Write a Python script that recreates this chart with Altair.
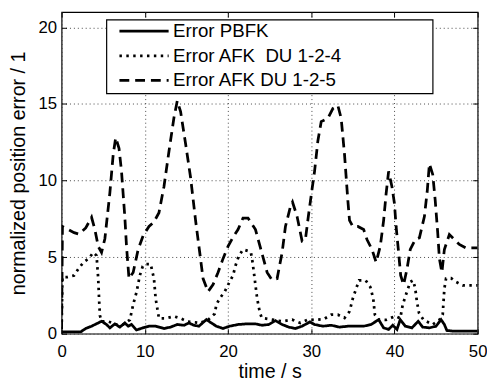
import altair as alt
import pandas as pd

# ---- data ----
series_names = ["Error PBFK", "Error AFK\u00a0 DU 1-2-4", "Error AFK DU 1-2-5"]

t_pbfk = [0, 2.3, 2.9, 3.6, 4.4, 4.8, 5.4, 5.8, 6.4, 7.0, 7.6, 8.0, 8.4, 9.0, 9.75, 10.5,
          11.3, 12.3, 13.1, 13.9, 14.7, 15.3, 15.9, 16.5, 17.4, 18.0, 18.6, 19.4, 20.2,
          21.2, 22.2, 23.3, 24.1, 24.9, 25.7, 26.5, 27.3, 28.1, 28.9, 29.85, 30.4, 31.4,
          32.4, 33.4, 34.4, 35.4, 36.3, 37.2, 38.1, 38.7, 39.3, 39.8, 40.3, 40.7, 41.3,
          42.1, 42.85, 43.4, 44.2, 45.0, 45.6, 46.0, 46.3, 47.0, 50.0]
e_pbfk = [0.12, 0.12, 0.34, 0.49, 0.7, 0.81, 0.6, 0.38, 0.64, 0.43, 0.7, 0.49, 0.6, 0.24,
          0.38, 0.49, 0.49, 0.34, 0.43, 0.6, 0.55, 0.7, 0.55, 0.49, 0.92, 0.7, 0.49, 0.34,
          0.49, 0.6, 0.64, 0.64, 0.55, 0.6, 0.85, 0.6, 0.43, 0.34, 0.49, 0.77, 0.6, 0.49,
          0.55, 0.43, 0.49, 0.49, 0.49, 0.6, 0.92, 0.38, 0.28, 0.55, 0.28, 0.92, 0.49,
          0.38, 0.81, 0.43, 0.38, 0.49, 0.92, 0.6, 0.21, 0.17, 0.17]

t_du124 = [0, 0.1, 0.7, 1.5, 2.1, 2.7, 3.25, 3.8, 4.2, 4.4, 4.5, 4.6, 4.8, 5.6, 6.6, 7.4,
           8.2, 8.6, 9.0, 9.4, 9.75, 10.1, 10.7, 11.1, 11.3, 11.7, 12.5, 13.5, 14.3, 15.1,
           16.6, 17.6, 18.4, 18.6, 19.0, 19.6, 20.2, 20.6, 20.9, 21.3, 21.8, 22.4, 22.75,
           22.95, 23.2, 23.5, 23.8, 24.05, 25.3, 26.5, 27.7, 28.7, 29.6, 30.5, 31.5, 32.4,
           33.2, 34.0, 34.6, 35.0, 35.4, 35.75, 36.55, 37.1, 37.45, 37.65, 38.1, 39.0,
           40.1, 40.7, 41.0, 41.5, 41.9, 42.25, 42.5, 42.7, 42.95, 43.5, 44.6, 45.4, 45.8,
           45.9, 46.0, 46.2, 46.8, 47.4, 48.2, 49.1, 50.0]
e_du124 = [0.3, 3.7, 3.7, 3.8, 4.3, 4.7, 4.9, 5.3, 5.1, 3.6, 2.3, 1.2, 0.8, 0.8, 0.6, 0.6,
           0.9, 1.9, 2.7, 3.8, 4.4, 4.55, 4.55, 3.6, 2.3, 1.0, 1.0, 1.13, 1.0, 0.8,
           0.7, 0.9, 1.3, 1.9, 2.3, 2.74, 3.4, 3.8, 4.44, 5.08, 5.5, 5.4, 5.3,
           4.66, 3.6, 2.3, 1.45, 1.03, 0.92, 0.8, 0.92, 0.7, 0.92, 0.9, 0.95, 1.24,
           1.24, 1.03, 1.45, 2.3, 2.95, 3.48, 3.48, 3.05, 2.3, 1.24, 0.92, 0.9,
           1.15, 1.0, 1.9, 2.74, 3.38, 3.48, 2.95, 2.1, 1.35, 0.9, 0.6, 0.9, 1.24,
           2.1, 2.95, 3.6, 3.63, 3.38, 3.16, 3.16, 3.16]

t_du125 = [0, 0.1, 0.8, 1.5, 2.1, 2.9, 3.6, 4.0, 4.4, 4.8, 5.2, 5.8, 6.2, 6.5, 6.9, 7.2,
           7.6, 7.8, 8.1, 8.6, 9.2, 9.8, 10.5, 11.1, 11.7, 12.3, 12.9, 13.5, 13.9, 14.3,
           14.9, 15.5, 16.1, 16.6, 17.0, 17.6, 18.2, 18.8, 19.4, 20.0, 20.6, 21.2, 21.8,
           22.4, 23.3, 23.9, 24.7, 25.3, 25.9, 26.5, 26.9, 27.5, 27.75, 28.3, 28.9, 29.3,
           29.65, 30.05, 30.4, 30.8, 31.2, 32.0, 32.6, 33.2, 33.6, 34.0, 34.4, 34.6, 35.0,
           35.6, 36.3, 36.7, 37.3, 37.8, 38.3, 38.7, 39.0, 39.3, 39.7, 40.0, 40.2, 40.5,
           40.75, 41.1, 41.5, 41.9, 42.5, 43.0, 43.6, 43.95, 44.2, 44.6, 44.9, 45.2, 45.4,
           45.7, 46.0, 46.6, 47.2, 47.8, 48.6, 50.0]
e_du125 = [0.3, 7.0, 6.8, 6.6, 6.5, 6.9, 7.6, 6.8, 5.7, 5.3, 6.2, 9.2, 11.7, 12.8, 12.1, 10.6,
           7.6, 5.7, 3.6, 4.0, 5.5, 6.4, 7.0, 7.3, 7.9, 9.6, 11.9, 14.1, 15.2, 14.5,
           12.4, 10.2, 7.4, 5.3, 3.6, 2.75, 3.2, 4.0, 4.9, 5.7, 6.3, 6.8, 7.55,
           7.55, 6.8, 5.6, 4.0, 3.5, 3.6, 5.3, 7.0, 8.3, 8.6, 7.65, 6.05, 6.15,
           7.65, 9.25, 10.6, 12.6, 13.85, 14.06, 14.7, 14.9, 14.06, 11.7, 8.7, 7.4, 7.0,
           7.0, 6.8, 6.15, 5.5, 4.66, 5.72, 7.4, 9.15, 10.6, 9.6, 8.5, 7.0, 5.3,
           3.8, 3.2, 4.2, 5.5, 6.15, 6.26, 7.65, 9.36, 11.1, 10.4, 8.7, 6.6, 4.9,
           4.0, 5.5, 6.47, 6.15, 5.83, 5.6, 5.6]

x_ticks = [0, 10, 20, 30, 40, 50]
y_ticks = [0, 5, 10, 15, 20]

frames = []
for name, t, e in [(series_names[0], t_pbfk, e_pbfk),
                   (series_names[1], t_du124, e_du124),
                   (series_names[2], t_du125, e_du125)]:
    frames.append(pd.DataFrame({"t": t, "e": e, "series": name}))
df = pd.concat(frames, ignore_index=True)

FONT = "Liberation Sans"
xscale = alt.Scale(domain=[0, 50], nice=False, zero=False)
yscale = alt.Scale(domain=[0, 21], nice=False)

base = alt.Chart(df)

lines = base.mark_line(color="black", strokeWidth=2.8, strokeCap="butt", clip=True).encode(
    x=alt.X("t:Q", scale=xscale,
            axis=alt.Axis(values=x_ticks, title="time / s", grid=True, domain=False,
                          offset=-5, tickSize=5, tickColor="black", labelPadding=10,
                          labelFontSize=17, labelColor="black", labelFont=FONT,
                          labelFlush=False, titleFont=FONT, titleFontSize=20,
                          titleFontWeight="normal", titleColor="black", titlePadding=3,
                          gridColor="#444444", gridDash=[1, 3], gridWidth=1,
                          gridOpacity=1)),
    y=alt.Y("e:Q", scale=yscale,
            axis=alt.Axis(values=y_ticks, title="normalized position error / 1",
                          grid=True, domain=False, offset=-5, tickSize=5,
                          tickColor="black", labelPadding=5, labelFontSize=17,
                          labelColor="black", labelFont=FONT, titleFont=FONT,
                          titleFontSize=20, titleFontWeight="normal", titleColor="black",
                          titlePadding=10, gridColor="#444444", gridDash=[1, 3],
                          gridWidth=1, gridOpacity=1)),
    strokeDash=alt.StrokeDash(
        "series:N",
        scale=alt.Scale(domain=series_names, range=[[1, 0], [2.5, 4.5], [10, 6]]),
        legend=alt.Legend(orient="none", legendX=45.8, legendY=5, title=None,
                          symbolType="M-5,0H5", symbolSize=100, symbolStrokeWidth=2.8,
                          symbolStrokeColor="black", symbolFillColor="transparent",
                          symbolOffset=23.5, labelOffset=20, labelFontSize=19,
                          labelFont=FONT, labelColor="black", labelLimit=500,
                          padding=5, rowPadding=5)),
    detail="series:N",
)

# legend frame (white box with black border behind the legend entries)
legend_box = alt.Chart(pd.DataFrame({"box": [0]})).mark_rect(
    fill="white", stroke="black", strokeWidth=1.2
).encode(
    x=alt.value(45.8), x2=alt.value(377.5), y=alt.value(8), y2=alt.value(83)
)

frame_ticks = base.mark_line(opacity=0).encode(
    x=alt.X("t:Q", scale=xscale,
            axis=alt.Axis(orient="top", values=x_ticks, labels=False, title=None,
                          grid=False, domain=False, offset=-5, tickSize=5,
                          tickColor="black")),
    y=alt.Y("e:Q", scale=yscale,
            axis=alt.Axis(orient="right", values=y_ticks, labels=False, title=None,
                          grid=False, domain=False, offset=-5, tickSize=5,
                          tickColor="black")),
    detail="series:N",
)

chart = alt.layer(lines, legend_box, frame_ticks).resolve_axis(
    x="independent", y="independent"
).properties(
    width=423, height=327,
    autosize=alt.AutoSizeParams(type="none"),
    padding={"left": 54.5, "top": 1, "right": 9.5, "bottom": 47},
    background="white",
).configure(font=FONT).configure_view(stroke="black", strokeWidth=1.2)

chart.save("out.html", embed_options={"renderer": "svg", "actions": False})
